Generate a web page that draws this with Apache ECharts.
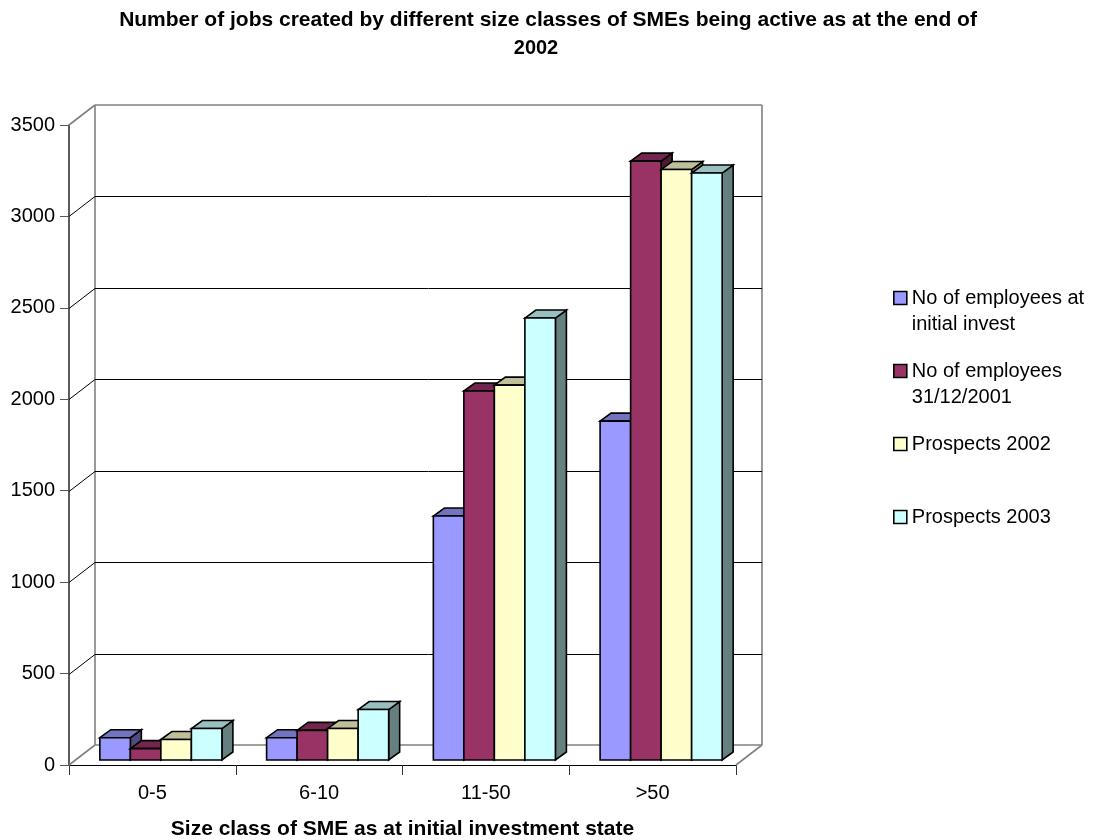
<!DOCTYPE html>
<html>
<head>
<meta charset="utf-8">
<style>html,body{margin:0;padding:0;background:#fff}#chart{width:1093px;height:840px}</style>
<script src="https://cdn.jsdelivr.net/npm/echarts@6/dist/echarts.min.js"></script>
</head>
<body>
<div id="chart"></div>
<script>
// Jobs per SME size class, drawn as pseudo-3D clustered columns.
const categories = ['0-5', '6-10', '11-50', '>50'];
const seriesNames = ['No of employees at\ninitial invest', 'No of employees\n31/12/2001', 'Prospects 2002', 'Prospects 2003'];
const initialInvest = [122, 122, 1334, 1853];
const employees2001 = [62, 162, 2018, 3275];
const prospects2002 = [112, 172, 2050, 3229];
const prospects2003 = [172, 276, 2417, 3210];
const allValues = [initialInvest, employees2001, prospects2002, prospects2003];
const gridValues = [500, 1000, 1500, 2000, 2500, 3000];

const frontColors = ['#9999FF', '#993366', '#FFFFCC', '#CCFFFF'];
const topColors = ['#7373BF', '#73264D', '#BFBF99', '#99BFBF'];
const sideColors = ['#4D4D80', '#4D1A33', '#80806A', '#668080'];

const WALL = [26, -20];        // offset of the back wall from the front plane
const BAR_PLANE = [8.5, -5];   // offset of the column fronts from the front plane
const BAR_DEPTH = [11, -8];    // depth of each column
const FRAME = '#808080';

function line(x1, y1, x2, y2, stroke, width) {
  return { type: 'line', shape: { x1, y1, x2, y2 }, style: { stroke, lineWidth: width } };
}

// Side wall, back wall and floor outline.
function renderFrame(params) {
  const c = params.coordSys;
  const L = c.x, R = c.x + c.width, T = c.y, B = c.y + c.height;
  const bl = L + WALL[0], br = R + WALL[0], bt = T + WALL[1], bb = B + WALL[1];
  return {
    type: 'group',
    children: [
      line(L, T, bl, bt, FRAME, 1.6),
      line(bl, bt, br, bt, FRAME, 1.6),
      line(bl, bt, bl, bb, FRAME, 1.6),
      line(br, bt, br, bb, FRAME, 1.6),
      line(L, B, bl, bb, FRAME, 1.6),
      line(bl, bb, br, bb, FRAME, 1.6),
      line(R, B, br, bb, FRAME, 1.6)
    ]
  };
}

// One wall gridline per value: diagonal on the side wall, horizontal on the back.
function renderGrid(params, api) {
  const c = params.coordSys;
  const y = Math.round(api.coord([0, api.value(0)])[1] + WALL[1]) + 0.5;
  const bl = c.x + WALL[0], br = c.x + c.width + WALL[0];
  return {
    type: 'group',
    children: [
      line(c.x, y - WALL[1], bl, y, '#000', 1),
      line(bl, y, br, y, '#000', 1)
    ]
  };
}

// A column is three faces: side, top and front, projected from its value.
function makeColumn(seriesIndex) {
  return function (params, api) {
    const cat = api.value(0);
    const top = api.coord([cat, api.value(1)]);
    const base = api.coord([cat, 0]);
    const band = api.size([1, 0])[0];
    const w = band * 0.183;
    const x0 = top[0] + BAR_PLANE[0] - 2 * w + seriesIndex * w;
    const x1 = x0 + w;
    const yT = top[1] + BAR_PLANE[1];
    const yB = base[1] + BAR_PLANE[1];
    const dx = BAR_DEPTH[0], dy = BAR_DEPTH[1];
    const edge = { stroke: '#000', lineWidth: 1.6, lineJoin: 'miter' };
    const face = (pts, fill) => ({ type: 'polygon', shape: { points: pts }, style: Object.assign({ fill }, edge) });
    return {
      type: 'group',
      children: [
        face([[x1, yT], [x1 + dx, yT + dy], [x1 + dx, yB + dy], [x1, yB]], sideColors[seriesIndex]),
        face([[x0, yT], [x0 + dx, yT + dy], [x1 + dx, yT + dy], [x1, yT]], topColors[seriesIndex]),
        face([[x0, yT], [x1, yT], [x1, yB], [x0, yB]], frontColors[seriesIndex])
      ]
    };
  };
}

const legendTops = [259, 332, 431, 504];
const legendFormatter = n => (n.indexOf('\n') >= 0 ? '\n' + n : n);

const option = {
  backgroundColor: '#fff',
  animation: false,
  textStyle: { fontFamily: 'Liberation Sans' },
  title: [
    { text: 'Number of jobs created by different size classes of SMEs being active as at the end of',
      left: 543, top: 5, textAlign: 'center',
      textStyle: { fontSize: 21, fontWeight: 'bold', color: '#000', fontFamily: 'Liberation Sans' } },
    { text: '2002', left: 531, top: 33, textAlign: 'center',
      textStyle: { fontSize: 20, fontWeight: 'bold', color: '#000', fontFamily: 'Liberation Sans' } }
  ],
  grid: { left: 69, top: 125, width: 667, height: 640, containLabel: false, outerBoundsMode: 'none' },
  xAxis: {
    type: 'category',
    data: categories,
    axisLine: { lineStyle: { color: '#000', width: 1 } },
    axisTick: { show: true, length: 10, lineStyle: { color: '#333', width: 1 } },
    axisLabel: { fontSize: 20, color: '#000', margin: 18, fontFamily: 'Liberation Sans' },
    name: 'Size class of SME as at initial investment state',
    nameLocation: 'middle',
    nameGap: 54,
    nameTextStyle: { fontSize: 21, fontWeight: 'bold', color: '#000', fontFamily: 'Liberation Sans' }
  },
  yAxis: {
    type: 'value',
    min: 0, max: 3500, interval: 500,
    splitLine: { show: false },
    axisLine: { show: true, lineStyle: { color: '#333', width: 1.6 } },
    axisTick: { show: true, length: 9, lineStyle: { color: '#555', width: 1 } },
    axisLabel: { fontSize: 20, color: '#000', margin: 14, formatter: v => String(v), fontFamily: 'Liberation Sans' }
  },
  legend: seriesNames.map((n, i) => ({
    data: [{ name: n, icon: 'rect', itemStyle: { color: frontColors[i], borderColor: '#000', borderWidth: 1.6 } }],
    orient: 'vertical',
    left: 893,
    top: legendTops[i],
    itemWidth: 13, itemHeight: 13, itemGap: 0,
    padding: 0,
    selectedMode: false,
    formatter: legendFormatter,
    textStyle: { fontSize: 20, color: '#000', lineHeight: 26, fontFamily: 'Liberation Sans' }
  })),
  series: [
    { type: 'custom', name: 'frame', silent: true, data: [0], renderItem: renderFrame, encode: { x: -1, y: -1 } },
    { type: 'custom', name: 'grid', silent: true, data: gridValues.map(v => [v]), renderItem: renderGrid, encode: { y: 0 } }
  ].concat(seriesNames.map((n, i) => ({
    type: 'custom',
    name: n,
    renderItem: makeColumn(i),
    data: allValues[i].map((v, c) => [c, v]),
    encode: { x: 0, y: 1 }
  })))
};

echarts.init(document.getElementById('chart'), null, { renderer: 'canvas' }).setOption(option);
</script>
</body>
</html>
